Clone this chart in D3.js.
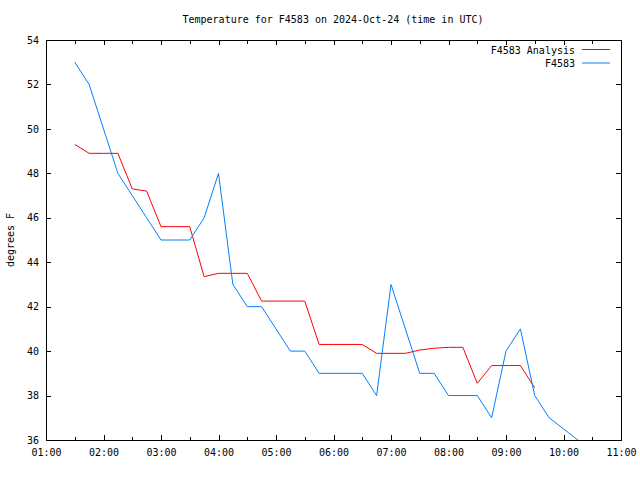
<!DOCTYPE html>
<html>
<head>
<meta charset="utf-8">
<script src="https://cdn.jsdelivr.net/npm/d3@7"></script>
<style>
html, body { margin: 0; padding: 0; background: #fff; }
svg { display: block; }
text { font-family: "DejaVu Sans Mono", "Liberation Mono", monospace; font-size: 10px; fill: #000; }
</style>
</head>
<body>
<script>
// ---- data ----
const dateStr = "2024-10-24";
const analysisTimes = ["01:30","01:45","02:00","02:15","02:30","02:45","03:00","03:15","03:30","03:45",
  "04:00","04:15","04:30","04:45","05:00","05:15","05:30","05:45","06:00","06:15","06:30","06:45",
  "07:00","07:15","07:30","07:45","08:00","08:15","08:30","08:45","09:00","09:15","09:30"];
const analysisValues = [49.3,48.9,48.9,48.9,47.3,47.2,45.6,45.6,45.6,43.35,
  43.5,43.5,43.5,42.25,42.25,42.25,42.25,40.3,40.3,40.3,40.3,39.9,
  39.9,39.9,40.05,40.13,40.17,40.17,38.55,39.35,39.35,39.35,38.35];
const obsTimes = ["01:30","01:45","02:00","02:15","02:30","02:45","03:00","03:15","03:30","03:45",
  "04:00","04:15","04:30","04:45","05:00","05:15","05:30","05:45","06:00","06:15","06:30","06:45",
  "07:00","07:15","07:30","07:45","08:00","08:15","08:30","08:45","09:00","09:15","09:30","09:45",
  "10:00","10:15"];
const obsValues = [53,52,50,48,47,46,45,45,45,46,
  48,43,42,42,41,40,40,39,39,39,39,38,
  43,41,39,39,38,38,38,37,40,41,38,37,
  36.5,36];
const yTicks = [36,38,40,42,44,46,48,50,52,54];
const xDomain = ["01:00","11:00"];
const titleText = "Temperature for F4583 on 2024-Oct-24 (time in UTC)";
const yLabel = "degrees F";
const seriesNames = ["F4583 Analysis","F4583"];
const seriesColors = ["#ff0000","#0080ff"];

// ---- chart ----
const W = 640, H = 480;
const L = 46, R = 621, T = 40, B = 440;
const parse = s => new Date(dateStr + "T" + s + ":00Z");

const svg = d3.select("body").append("svg").attr("width", W).attr("height", H);

const x = d3.scaleUtc().domain(xDomain.map(parse)).range([L, R]);
const y = d3.scaleLinear().domain([yTicks[0], yTicks[yTicks.length-1]]).range([B, T]);

const fmt = d3.utcFormat("%H:%M");
const hourTicks = d3.utcHour.every(1).range(parse(xDomain[0]), new Date(+parse(xDomain[1]) + 1));
const halfTicks = d3.utcMinute.every(30).range(parse(xDomain[0]), parse(xDomain[1])).filter(d => d.getUTCMinutes() === 30);

// bottom axis (labels + inward ticks)
const gB = svg.append("g").attr("transform", `translate(0,${B})`)
  .call(d3.axisBottom(x).tickValues(hourTicks).tickFormat(fmt).tickSizeInner(-5).tickSizeOuter(0).tickPadding(9));
gB.select(".domain").remove();
gB.selectAll("text").attr("font-family", null).attr("font-size", null);
const gBm = svg.append("g").attr("transform", `translate(0,${B})`)
  .call(d3.axisBottom(x).tickValues(halfTicks).tickFormat("").tickSizeInner(-3).tickSizeOuter(0));
gBm.select(".domain").remove();

// top mirror ticks
const gT = svg.append("g").attr("transform", `translate(0,${T})`)
  .call(d3.axisTop(x).tickValues(hourTicks).tickFormat("").tickSizeInner(-5).tickSizeOuter(0));
gT.select(".domain").remove();
const gTm = svg.append("g").attr("transform", `translate(0,${T})`)
  .call(d3.axisTop(x).tickValues(halfTicks).tickFormat("").tickSizeInner(-4).tickSizeOuter(0));
gTm.select(".domain").remove();

// left axis
const gL = svg.append("g").attr("transform", `translate(${L},0)`)
  .call(d3.axisLeft(y).tickValues(yTicks).tickFormat(d3.format("d")).tickSizeInner(-5).tickSizeOuter(0).tickPadding(7));
gL.select(".domain").remove();
gL.selectAll("text").attr("font-family", null).attr("font-size", null);
// right mirror ticks
const gR = svg.append("g").attr("transform", `translate(${R},0)`)
  .call(d3.axisRight(y).tickValues(yTicks).tickFormat("").tickSizeInner(-5).tickSizeOuter(0));
gR.select(".domain").remove();

svg.selectAll(".tick line").attr("stroke", "#000").attr("shape-rendering", "crispEdges");

// frame
svg.append("rect").attr("x", L + 0.5).attr("y", T + 0.5).attr("width", R - L).attr("height", B - T)
  .attr("fill", "none").attr("stroke", "#000").attr("stroke-width", 1).attr("shape-rendering", "crispEdges");

// lines
const line = d3.line().x(d => x(d[0])).y(d => y(d[1]));
const s1 = analysisTimes.map((t, i) => [parse(t), analysisValues[i]]);
const s2 = obsTimes.map((t, i) => [parse(t), obsValues[i]]);
svg.append("path").datum(s1).attr("d", line).attr("fill", "none").attr("stroke", seriesColors[0]).attr("stroke-width", 1);
svg.append("path").datum(s2).attr("d", line).attr("fill", "none").attr("stroke", seriesColors[1]).attr("stroke-width", 1);

// title
svg.append("text").attr("x", 333).attr("y", 23).attr("text-anchor", "middle").text(titleText);
// y label
svg.append("text").attr("transform", "translate(14,240) rotate(-90)").attr("text-anchor", "middle").text(yLabel);

// legend
seriesNames.forEach((n, i) => {
  const ly = 50 + i * 13.5;
  svg.append("text").attr("x", 575).attr("y", ly + 3.5).attr("text-anchor", "end").text(n);
  svg.append("line").attr("x1", 582).attr("x2", 610).attr("y1", ly - 0.5).attr("y2", ly - 0.5)
    .attr("stroke", seriesColors[i]).attr("stroke-width", 1);
});
</script>
</body>
</html>
